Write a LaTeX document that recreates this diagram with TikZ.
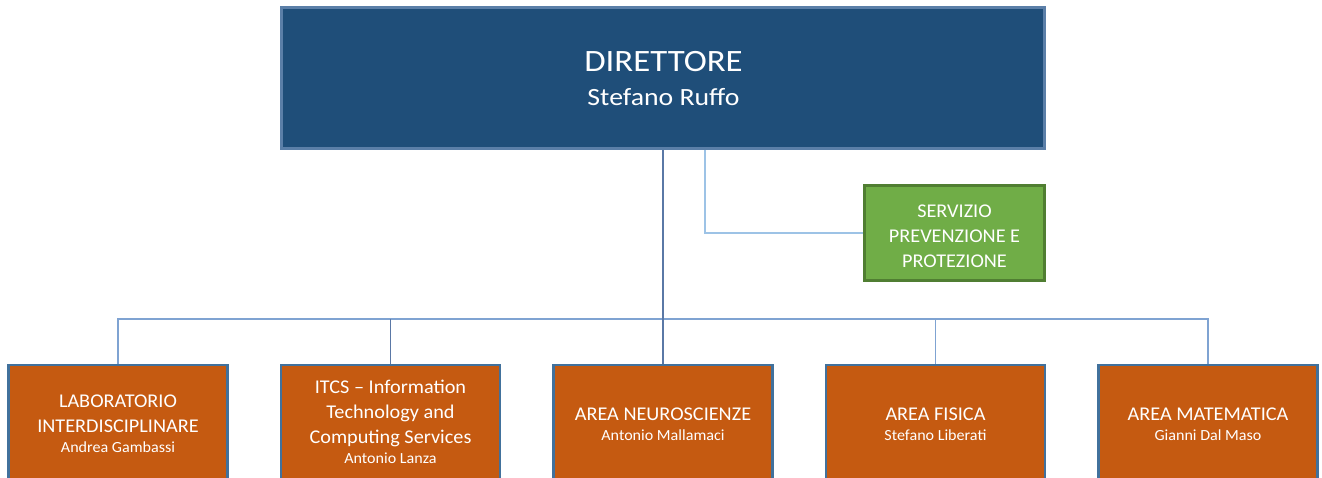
\documentclass[tikz,border=0pt]{standalone}
\usepackage{fontspec}
\setmainfont{Carlito}[FakeStretch=1.04]
\newfontfamily\widefont{Carlito}[FakeStretch=1.12]
\usetikzlibrary{backgrounds}
\definecolor{dirblue}{HTML}{1F4E79}
\definecolor{dirborder}{HTML}{5B7FA8}
\definecolor{grfill}{HTML}{70AD47}
\definecolor{grborder}{HTML}{507E32}
\definecolor{orfill}{HTML}{C55A11}
\definecolor{orborder}{HTML}{41719C}
\definecolor{mainline}{HTML}{5A78A6}
\definecolor{busline}{HTML}{7FA3D2}
\definecolor{asstline}{HTML}{9DC3E6}
\newcommand{\nmfont}{\fontsize{11.6}{15}\selectfont}
\begin{document}
\begin{tikzpicture}[x=0.75pt,y=-0.75pt,
  dirbox/.style={rectangle, draw=dirborder, line width=1.6pt, fill=dirblue,
    minimum width=763*0.75pt, minimum height=141*0.75pt, inner sep=0pt},
  grbox/.style={rectangle, draw=grborder, line width=1.6pt, fill=grfill,
    minimum width=180*0.75pt, minimum height=95*0.75pt, inner sep=0pt},
  orbox/.style={rectangle, draw=orborder, line width=1.6pt, fill=orfill,
    minimum width=219*0.75pt, minimum height=116*0.75pt, inner sep=0pt},
  boxtext/.style={text=white, align=center, anchor=base, inner sep=0pt,
    font=\fontsize{14.6}{18.75}\selectfont},
  dirtext/.style={text=white, align=center, anchor=base, inner sep=0pt,
    font=\widefont\fontsize{23.3}{25.5}\selectfont},
  mainconn/.style={draw=mainline, line width=1.1pt},
  busconn/.style={draw=busline, line width=1.1pt},
  asstconn/.style={draw=asstline, line width=1.3pt}
]
\useasboundingbox (0,0) rectangle (1322,478);
\clip (0,0) rectangle (1322,478);

\node[dirbox] (top) at (663,78) {};
\node[grbox] (g) at (954.5,233) {};
\node[orbox] (o1) at (118,423) {};
\node[orbox] (o2) at (390.5,423) {};
\node[orbox] (o3) at (663,423) {};
\node[orbox] (o4) at (935.5,423) {};
\node[orbox] (o5) at (1208,423) {};

% anchor=base is the baseline of the last line
\node[dirtext] (toptext) at (663.5,106) {DIRETTORE\\{\fontsize{18.6}{25.5}\selectfont Stefano Ruffo}};
\node[boxtext] (gtext) at (954.5,267) {SERVIZIO\\PREVENZIONE E\\PROTEZIONE};
\node[boxtext] (t1) at (118,452) {LABORATORIO\\INTERDISCIPLINARE\\[-3.75pt]{\nmfont Andrea Gambassi}};
\node[boxtext] (t2) at (390.5,463) {ITCS -- Information\\Technology and\\Computing Services\\[-3.75pt]{\nmfont Antonio Lanza}};
\node[boxtext] (t3) at (663,440) {AREA NEUROSCIENZE\\[-3.75pt]{\nmfont Antonio Mallamaci}};
\node[boxtext] (t4) at (935.5,440) {AREA FISICA\\[-3.75pt]{\nmfont Stefano Liberati}};
\node[boxtext] (t5) at (1208,440) {AREA MATEMATICA\\[-3.75pt]{\nmfont Gianni Dal Maso}};

\coordinate (bus) at (663,319);
\coordinate (asst) at (705,149);

\begin{scope}[on background layer]
\fill[white] (0,0) rectangle (1322,478);
\path[busconn] (o1.north) |- (bus) -| (o5.north);
\path[busconn] (o4.north) -- (o4.north |- bus);
\path[mainconn] (o2.north) -- (o2.north |- bus);
\path[mainconn] (top.south) -- (o3.north);
\path[asstconn] (asst) |- (g.west);
\end{scope}
\end{tikzpicture}
\end{document}
